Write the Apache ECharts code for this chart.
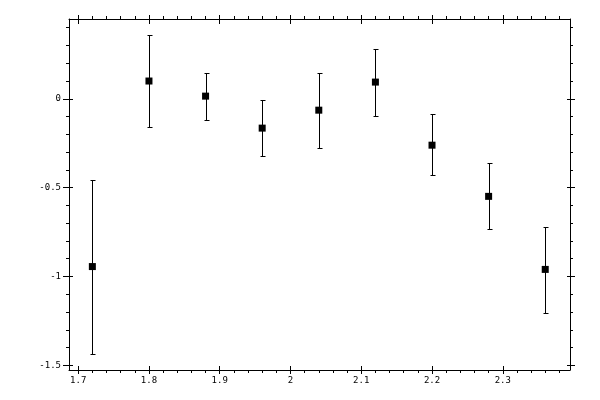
<!DOCTYPE html>
<html><head><meta charset="utf-8">
<script src="https://cdn.jsdelivr.net/npm/echarts@6/dist/echarts.min.js"></script>
<style>html,body{margin:0;padding:0;background:#fff}#c{width:600px;height:400px}</style>
</head><body><div id="c"></div>
<script>
// ---- data ----
const xValues = [1.72, 1.80, 1.88, 1.96, 2.04, 2.12, 2.20, 2.28, 2.36];
const yValues = [-0.944, 0.100, 0.015, -0.165, -0.064, 0.094, -0.261, -0.549, -0.960];
const yUpper  = [-0.459, 0.359, 0.145, -0.007, 0.145, 0.280, -0.088, -0.363, -0.720];
const yLower  = [-1.434, -0.160, -0.118, -0.321, -0.278, -0.098, -0.430, -0.735, -1.203];
// ---- ticks ----
const xTickLabels = [1.7, 1.8, 1.9, 2.0, 2.1, 2.2, 2.3];
const xMinorTicks = [1.72, 1.74, 1.76, 1.78, 1.82, 1.84, 1.86, 1.88, 1.92, 1.94, 1.96, 1.98,
                     2.02, 2.04, 2.06, 2.08, 2.12, 2.14, 2.16, 2.18, 2.22, 2.24, 2.26, 2.28,
                     2.32, 2.34, 2.36, 2.38];
const yTickLabels = [-1.5, -1, -0.5, 0];
const yMinorTicks = [-1.4, -1.3, -1.2, -1.1, -0.9, -0.8, -0.7, -0.6, -0.4, -0.3, -0.2, -0.1,
                     0.1, 0.2, 0.3, 0.4];
const xRange = [1.687, 2.395];
const yRange = [-1.526, 0.449];

const FONT = 'DejaVu Sans Mono';

function axis(dim, position, values, len, inside, showLabel, showLine) {
  const range = dim === 'x' ? xRange : yRange;
  return {
    type: 'value', position: position, min: range[0], max: range[1],
    splitLine: {show: false},
    axisLine: {show: showLine, onZero: false, lineStyle: {color: '#000', width: 1}},
    axisTick: {show: true, customValues: values, length: len, inside: inside,
               lineStyle: {color: '#000', width: 1}},
    axisLabel: {show: showLabel, customValues: showLabel ? values : undefined,
                color: '#000', fontFamily: FONT, fontSize: 9,
                margin: dim === 'x' ? 6 : 8}
  };
}

const xAxes = [
  axis('x', 'bottom', xTickLabels, 4, false, true, true),
  axis('x', 'bottom', xTickLabels, 4, true, false, false),
  axis('x', 'bottom', xMinorTicks, 3, false, false, false),
  axis('x', 'top', xTickLabels, 4, false, false, true),
  axis('x', 'top', xTickLabels, 5, true, false, false),
  axis('x', 'top', xMinorTicks, 3, false, false, false)
];
const yAxes = [
  axis('y', 'left', yTickLabels, 6, false, true, true),
  axis('y', 'left', yTickLabels, 4, true, false, false),
  axis('y', 'left', yMinorTicks, 3, false, false, false),
  axis('y', 'right', yTickLabels, 5, false, false, true),
  axis('y', 'right', yTickLabels, 3, true, false, false),
  axis('y', 'right', yMinorTicks, 3, false, false, false)
];

const errData = xValues.map((x, i) => [x, yLower[i], yUpper[i]]);
const ptData = xValues.map((x, i) => [x, yValues[i]]);

const chart = echarts.init(document.getElementById('c'));
chart.setOption({
  animation: false,
  backgroundColor: '#fff',
  grid: {left: 69, top: 19, right: 30, bottom: 30},
  xAxis: xAxes,
  yAxis: yAxes,
  series: [
    {
      type: 'custom', xAxisIndex: 0, yAxisIndex: 0,
      data: errData,
      encode: {x: 0, y: [1, 2]},
      renderItem: function (params, api) {
        const x = api.value(0);
        const lo = api.coord([x, api.value(1)]);
        const hi = api.coord([x, api.value(2)]);
        const px = Math.round(lo[0]) + 0.5;
        const yl = Math.round(lo[1]) + 0.5;
        const yh = Math.round(hi[1]) + 0.5;
        const w = 2;
        const st = {stroke: '#000', lineWidth: 1};
        return {type: 'group', children: [
          {type: 'line', shape: {x1: px, y1: yh, x2: px, y2: yl}, style: st},
          {type: 'line', shape: {x1: px - w, y1: yh, x2: px + w + 1, y2: yh}, style: st},
          {type: 'line', shape: {x1: px - w, y1: yl, x2: px + w + 1, y2: yl}, style: st}
        ]};
      }
    },
    {
      type: 'scatter', xAxisIndex: 0, yAxisIndex: 0,
      data: ptData, symbol: 'rect', symbolSize: 7,
      itemStyle: {color: '#000', opacity: 1}, z: 5
    }
  ]
});
</script>
</body></html>
